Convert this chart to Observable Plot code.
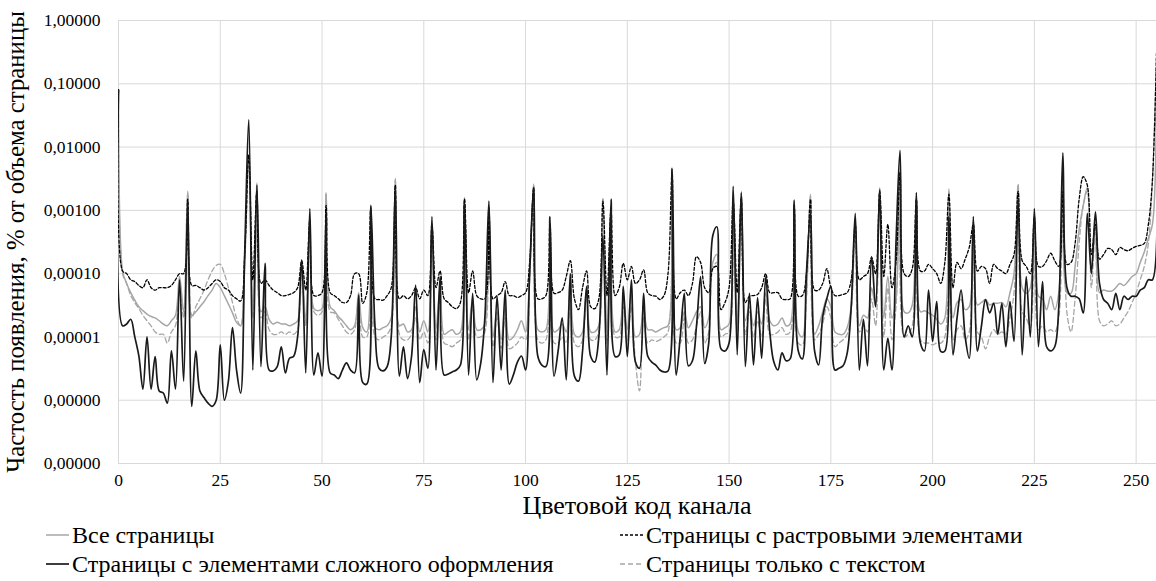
<!DOCTYPE html>
<html><head><meta charset="utf-8">
<script src="https://cdn.jsdelivr.net/npm/d3@7"></script>
<script src="https://cdn.jsdelivr.net/npm/@observablehq/plot@0.6"></script>
<style>
html,body{margin:0;padding:0;background:#fff;}
#wrap{position:relative;width:1156px;height:581px;}
#chart svg{display:block;}
#legend{display:block;}
</style></head>
<body><div id="wrap"><div id="chart"></div></div>
<script>
const seriesNames = ["Все страницы","Страницы с растровыми элементами","Страницы с элементами сложного оформления","Страницы только с текстом"];
const yTitle = "Частость появления, % от объема страницы";
const xTitle = "Цветовой код канала";
const xTicks = [0,25,50,75,100,125,150,175,200,225,250];
const yTicks = [1e-7,1e-6,1e-5,1e-4,1e-3,1e-2,1e-1,1];
const yTickLabels = ["0,00000","0,00000","0,00001","0,00010","0,00100","0,01000","0,10000","1,00000"];

const allPages = [
8e-2,1.1e-4,7e-5,5e-5,3.8e-5,3e-5,2.6e-5,2.3e-5,2.1e-5,2e-5,
1.8e-5,1.6e-5,1.5e-5,1.8e-5,2.2e-5,9e-5,2.5e-5,2e-3,2.2e-5,2.5e-5,
3e-5,3.6e-5,4.5e-5,5.5e-5,7e-5,6e-5,4.5e-5,3.3e-5,2.4e-5,1.7e-5,
1.5e-5,1.5e-4,7e-3,2.5e-5,2.7e-3,2.5e-5,3e-5,1.9e-5,1.6e-5,1.7e-5,
1.6e-5,1.6e-5,1.5e-5,1.6e-5,1.8e-5,1.3e-4,1.8e-5,6e-4,2.8e-5,2.6e-5,
2.8e-5,1.9e-3,3e-5,2.6e-5,2.1e-5,1.8e-5,1.5e-5,1.3e-5,1.5e-5,5e-5,
1.4e-5,1.2e-5,1e-3,1.4e-5,1.3e-5,1.4e-5,1.5e-5,2e-5,3.2e-3,1.5e-5,
1.6e-5,1.2e-5,1.3e-5,3e-5,1.2e-5,1.8e-5,1.2e-5,6e-4,1.3e-5,6e-5,
1.1e-5,1.2e-5,1.3e-5,1.1e-5,1.2e-5,1.6e-3,1.3e-5,4e-5,1.3e-5,1.3e-5,
1.6e-5,1e-3,1e-5,2.5e-5,9e-6,3e-5,9e-6,1e-5,1.3e-5,1.8e-5,
1.2e-5,1e-4,2.6e-3,1.3e-5,1.2e-5,1.3e-5,5e-4,1.2e-5,1.3e-5,1.6e-5,
1.2e-5,1e-4,1.1e-5,1e-5,1.2e-5,6e-5,1.2e-5,1.2e-5,1.5e-5,1.3e-3,
1.1e-5,1e-3,1.2e-5,1.3e-5,4e-5,1.3e-5,5e-5,1e-5,1.1e-5,3e-5,
1.3e-5,1.3e-5,1.2e-5,1.3e-5,1.4e-5,1.5e-5,4.5e-3,1.3e-5,1.4e-5,2.5e-5,
1.4e-5,1.8e-5,2.5e-5,3e-5,1.4e-5,2e-5,1.5e-4,2e-4,1.3e-5,1.4e-5,
1.6e-5,1e-3,1.4e-5,2e-3,1.8e-5,3e-5,1.5e-5,2.5e-5,1.6e-5,5e-5,
1.8e-5,1.5e-5,1.6e-5,2e-5,1.5e-5,1.6e-5,1.2e-3,1.2e-5,1e-5,5e-5,
1.8e-3,1.1e-5,1.5e-5,2.5e-5,4e-5,3e-5,1.2e-5,1.1e-5,1.1e-5,1.4e-5,
3e-5,6e-4,1.5e-5,2.2e-5,2e-5,6e-5,3e-5,2.3e-3,2e-5,9e-5,
2e-5,4e-5,4e-3,2.5e-5,2.4e-5,3.2e-5,1.5e-3,2.5e-5,2.6e-5,2.4e-5,
2.2e-5,1.9e-5,1.6e-5,2e-5,2.2e-3,2e-5,3.5e-5,3.9e-5,2.7e-5,3e-5,
7e-4,3.2e-5,3.5e-5,3.9e-5,3.2e-5,3.4e-5,3.4e-5,3.5e-5,3e-5,5e-5,
1e-4,2.5e-3,6e-5,4.9e-5,6e-5,7e-4,4.4e-5,4e-5,2.7e-5,4.4e-5,
2.7e-5,5e-5,3e-3,5e-5,4.9e-5,1.3e-4,5e-4,1.2e-3,2.3e-3,1.2e-4,
6e-4,5e-5,5.5e-5,5.3e-5,5.3e-5,6e-5,7e-5,6.5e-5,7.5e-5,9e-5,
1e-4,1.5e-4,2.2e-4,3.6e-4,6e-4,6e-2];

const rasterPages = [
8e-2,1.1e-4,1e-4,8e-5,7.5e-5,6.5e-5,6e-5,8e-5,6e-5,5.5e-5,
6e-5,6e-5,6e-5,6.5e-5,8e-5,1e-4,1e-4,1.5e-3,6.5e-5,6.5e-5,
6e-5,5.5e-5,6e-5,7e-5,8e-5,7.5e-5,6e-5,5.5e-5,4.5e-5,4e-5,
3.7e-5,2e-4,7.5e-3,8e-5,2e-3,7e-5,8e-5,6.5e-5,5.5e-5,5e-5,
4.5e-5,4.5e-5,4.7e-5,5e-5,6e-5,1.6e-4,5.5e-5,7e-4,4.5e-5,4.5e-5,
5e-5,1.2e-3,5e-5,4.5e-5,4e-5,3.5e-5,3.5e-5,4.5e-5,1e-4,1e-4,
3.4e-5,5e-5,1.1e-3,4e-5,3.9e-5,3.8e-5,4.5e-5,6e-5,2.5e-3,4e-5,
4.5e-5,4e-5,4.5e-5,6e-5,4e-5,5.5e-5,4.5e-5,6e-4,6e-5,1.1e-4,
4e-5,3.5e-5,3e-5,2.8e-5,3.5e-5,1.5e-3,5e-5,1.1e-4,4.5e-5,4e-5,
4e-5,1.1e-3,4e-5,4.5e-5,5e-5,7.5e-5,4.5e-5,4.5e-5,4.2e-5,4.5e-5,
5e-5,1.5e-4,2.3e-3,4e-5,4e-5,4.5e-5,6e-4,4.9e-5,5e-5,5.5e-5,
9e-5,1.6e-4,4e-5,2.7e-5,6e-5,1.1e-4,3e-5,2.8e-5,4e-5,1.4e-3,
4.5e-5,1e-3,4.5e-5,6e-5,1.45e-4,8e-5,1.3e-4,7e-5,8e-5,1.15e-4,
5e-5,4.5e-5,4.4e-5,3.9e-5,4.5e-5,1e-4,4e-3,4e-5,5e-5,5.5e-5,
4.5e-5,7e-5,1.86e-4,1.5e-4,6e-5,5e-5,1.2e-4,1.3e-4,2.7e-5,3.5e-5,
6e-5,1.4e-3,5e-5,1.6e-3,3.5e-5,4.4e-5,4.5e-5,4.7e-5,6e-5,1e-4,
5e-5,5e-5,5e-5,4e-5,3.9e-5,4e-5,1.2e-3,4.4e-5,4.5e-5,1e-4,
1.5e-3,5.5e-5,5.5e-5,7e-5,1.2e-4,6e-5,4.5e-5,4.5e-5,4.7e-5,5e-5,
8e-5,6e-4,8e-5,9e-5,1e-4,1.8e-4,1e-4,2e-3,9e-5,6e-4,
6e-5,1.5e-4,4e-3,1e-4,9e-5,1.2e-4,1.5e-3,1.1e-4,1.1e-4,1.4e-4,
1.2e-4,1e-4,7e-5,1.5e-4,1.8e-3,6e-5,1.5e-4,1.2e-4,1.7e-4,2.6e-4,
6e-4,1.1e-4,1.3e-4,1.2e-4,7e-5,1.4e-4,1.2e-4,1.1e-4,1e-4,1.4e-4,
2e-4,2e-3,1.6e-4,1.3e-4,1e-4,8e-4,1.3e-4,1.3e-4,1.6e-4,2.1e-4,
1.6e-4,1.3e-4,2e-3,1.4e-4,1.5e-4,3e-4,1.5e-3,3.4e-3,2.5e-3,2e-4,
6e-4,1.7e-4,2e-4,2.5e-4,2.4e-4,2e-4,2.6e-4,2.4e-4,2.3e-4,2.5e-4,
2.7e-4,2.8e-4,3e-4,6e-4,3e-3,3e-1];

const complexPages = [
8e-2,1.5e-5,1.6e-5,1.9e-5,1e-5,5e-6,1.5e-6,1e-5,1.5e-6,4.9e-6,
1.4e-6,1.3e-6,9e-7,6e-6,1.5e-6,8e-5,2e-6,1.3e-3,8e-7,6e-6,
1.4e-6,1.1e-6,9e-7,8e-7,1e-6,7.5e-6,1e-6,2e-6,1.4e-5,3e-6,
1.3e-6,2e-4,2.7e-2,3e-6,2.5e-3,3.4e-6,1.45e-4,3e-6,2.9e-6,3.4e-6,
7e-6,2.7e-6,4.6e-6,4.9e-6,1e-5,1.65e-4,2.7e-6,1.07e-3,2.5e-6,5.6e-6,
2.4e-6,9e-4,2.7e-6,2.5e-6,2.2e-6,3e-6,3.9e-6,3e-6,2.7e-6,4.6e-5,
1.9e-6,1.8e-6,1.2e-3,1.5e-5,3.2e-6,2.9e-6,3.4e-6,1e-5,2.3e-3,2.4e-6,
7e-6,2.2e-6,5e-6,6.6e-5,1.9e-6,6.3e-6,3.2e-6,8e-4,3e-6,9e-5,
2.5e-6,2.6e-6,2.8e-6,3e-6,3.6e-6,1.3e-3,2.5e-6,4.9e-5,2.1e-6,3.9e-6,
2e-5,1.4e-3,1.9e-6,4.4e-5,3e-6,5.5e-5,1.8e-6,2.5e-6,4e-6,5e-6,
3e-6,1e-4,2.3e-3,5e-6,3.6e-6,3.4e-6,8e-4,2.4e-6,6e-6,2e-5,
2.1e-6,1e-4,2.4e-6,2e-6,6e-6,6.3e-5,4.9e-6,4e-6,1e-5,4e-4,
2.5e-6,1.5e-3,4.9e-6,5.2e-6,6.3e-5,4.9e-6,8e-5,4e-6,3.2e-6,4.9e-5,
5e-6,4e-6,3.6e-6,3e-6,2.8e-6,2.9e-6,4.6e-3,2.5e-6,1e-5,4.9e-5,
3.5e-6,4.2e-6,1.5e-5,9e-5,3.8e-6,8e-6,4e-4,5.5e-4,6.5e-6,6e-6,
8e-6,2.4e-3,5.2e-6,1.9e-3,3.4e-6,4.9e-5,3.6e-6,4.2e-5,4.6e-6,9e-5,
1.2e-5,4e-6,3e-6,5.6e-6,4.2e-6,4.5e-6,1.45e-3,6e-6,4.5e-6,1e-4,
9e-4,6e-6,3.6e-6,2.1e-5,4e-5,6.3e-5,3e-6,3.2e-6,3.5e-6,5.5e-6,
3e-5,9e-4,3e-6,1.9e-5,3.5e-6,1.86e-4,3e-5,2.1e-3,3e-6,9.5e-6,
3e-6,3e-4,8.9e-3,1e-5,1.5e-5,1e-5,1.9e-3,8e-6,6e-6,5.5e-5,
8.5e-6,3.6e-5,5.9e-6,6e-6,8e-4,5.2e-6,2e-5,5.5e-5,1e-5,4.6e-6,
8e-4,6e-6,1.5e-5,3.9e-5,2.4e-5,3.4e-5,1.1e-5,3.4e-5,7e-6,3.6e-5,
8.5e-6,1.5e-3,5.2e-6,9e-5,1e-5,1.07e-3,7e-6,7.5e-5,7e-6,6e-6,
7e-6,3e-5,8.1e-3,6e-5,4.4e-5,4.4e-5,4e-5,2.4e-5,9e-4,1e-4,
9.5e-4,7e-5,3.9e-5,3.4e-5,2.7e-5,4.9e-5,2.7e-5,4.4e-5,3.9e-5,4.4e-5,
4.4e-5,5.5e-5,6e-5,8e-5,8e-5,3e-2];

const textPages = [
8e-2,1e-4,7e-5,4.5e-5,3.5e-5,2.8e-5,2.2e-5,1.8e-5,1.5e-5,1.2e-5,
1.1e-5,1.1e-5,8e-6,1.2e-5,1.5e-5,6e-5,2e-5,1.8e-3,2e-5,3e-5,
4e-5,5.5e-5,8e-5,1.1e-4,1.35e-4,1.4e-4,1e-4,6e-5,3.5e-5,2e-5,
1.5e-5,1.5e-4,6e-3,2e-5,2.5e-3,2e-5,2.5e-5,1.3e-5,1.1e-5,1.1e-5,
1.2e-5,1.1e-5,1.2e-5,1.1e-5,1.3e-5,1.2e-4,1.5e-5,5e-4,2.5e-5,2.2e-5,
2.5e-5,1.8e-3,2.5e-5,2.4e-5,1.9e-5,1.5e-5,1.2e-5,1.1e-5,1.3e-5,4e-5,
1e-5,1e-5,9e-4,1e-5,9e-6,1e-5,1.1e-5,1.5e-5,3e-3,1.1e-5,
9e-6,9e-6,1.1e-5,2e-5,9e-6,1.2e-5,8e-6,5e-4,9e-6,4e-5,
8e-6,7.5e-6,7e-6,8e-6,9e-6,1.5e-3,9e-6,3e-5,1e-5,1e-5,
1.2e-5,9e-4,7e-6,2e-5,6.6e-6,2e-5,6.5e-6,7e-6,8e-6,1e-5,
9e-6,8e-5,2.5e-3,9e-6,8e-6,9e-6,4.5e-4,8e-6,8e-6,1e-5,
8e-6,8e-5,8e-6,7e-6,9e-6,5e-5,9e-6,9e-6,1.2e-5,1.6e-3,
8e-6,8e-4,1e-5,1e-5,3e-5,9e-6,3e-5,4e-6,1.4e-6,2e-5,
8e-6,9e-6,8.5e-6,9e-6,1e-5,1.2e-5,4.2e-3,8e-6,8e-6,2e-5,
8e-6,9e-6,1.5e-5,2.5e-5,8e-6,1.2e-5,1.2e-4,1.5e-4,1e-5,1.1e-5,
1.2e-5,9e-4,1e-5,1.8e-3,1.1e-5,2.5e-5,1e-5,1.8e-5,1e-5,4e-5,
1.1e-5,1.1e-5,1.2e-5,1.4e-5,1.1e-5,1.2e-5,1.1e-3,8e-6,7.5e-6,4e-5,
1.7e-3,9e-6,1.1e-5,1.6e-5,3e-5,2e-5,7e-6,8e-6,9e-6,1.1e-5,
2.5e-5,5e-4,1.2e-5,1.5e-5,1.2e-5,4e-5,1.5e-5,2.2e-3,1e-5,6e-5,
9e-6,3e-5,3.5e-3,1e-5,1.1e-5,1.5e-5,1.3e-3,9e-6,8e-6,8e-6,
7.5e-6,8e-6,8e-6,1e-5,2e-3,9e-6,1.3e-5,1.5e-5,9e-6,1.2e-5,
6e-4,1.2e-5,1e-5,6.5e-6,1e-5,1.3e-5,1.1e-5,1.2e-5,1.1e-5,2e-5,
5e-5,2.6e-3,2.5e-5,2e-5,1.4e-5,5e-4,1.3e-5,1.5e-5,1.2e-5,1.3e-5,
1.2e-5,2e-5,2.5e-3,2.4e-5,1.2e-5,4e-5,3e-4,1.2e-3,2e-3,6e-5,
5e-4,1.8e-5,1.5e-5,1.6e-5,1.8e-5,1.5e-5,1.6e-5,2e-5,2.5e-5,3.5e-5,
5e-5,8e-5,1.3e-4,3e-4,3e-3,3e-1];

const seriesValues = [allPages, rasterPages, complexPages, textPages];
const styles = [
  {stroke:"#a6a6a6", strokeWidth:1.5, dash:null},
  {stroke:"#000000", strokeWidth:1.3, dash:"3,2"},
  {stroke:"#1a1a1a", strokeWidth:1.7, dash:null},
  {stroke:"#a6a6a6", strokeWidth:1.3, dash:"5,3"}
];
const drawOrder = [0,3,1,2];

const tables = seriesValues.map((vals, s) => vals.map((v, i) => ({code: i, value: v, series: seriesNames[s]})));

const lineMarks = drawOrder.map(s => Plot.line(tables[s], {
  x: "code", y: "value", curve: "catmull-rom",
  stroke: styles[s].stroke, strokeWidth: styles[s].strokeWidth,
  strokeDasharray: styles[s].dash, clip: true
}));

const serif = "Liberation Serif, Tinos, Times New Roman, DejaVu Serif, Noto Serif, serif";
const chart = Plot.plot({
  width: 1156, height: 490,
  marginLeft: 118, marginRight: 0, marginTop: 20, marginBottom: 27,
  style: {fontSize: "17.5px", color: "#000", background: "#fff"},
  x: {domain: [0, 255], ticks: xTicks, tickSize: 0, tickPadding: 10, label: null},
  y: {type: "log", domain: [1e-7, 1], ticks: yTicks, tickSize: 0, tickPadding: 18,
      tickFormat: d => yTickLabels[yTicks.indexOf(d)], label: null},
  marks: [
    Plot.gridX(xTicks, {stroke: "#d9d9d9", strokeOpacity: 1, strokeWidth: 1}),
    Plot.gridY(yTicks, {stroke: "#d9d9d9", strokeOpacity: 1, strokeWidth: 1}),
    ...lineMarks
  ]
});
document.getElementById("chart").appendChild(chart);
const ns = "http://www.w3.org/2000/svg";
chart.setAttribute("font-family", serif);
chart.querySelectorAll("text").forEach(t => { t.setAttribute("font-family", serif); t.setAttribute("font-size", "17.5"); t.setAttribute("fill", "#000"); });

function addText(svg, str, x, y, size, anchor, transform) {
  const t = document.createElementNS(ns, "text");
  if (transform) t.setAttribute("transform", transform);
  else { t.setAttribute("x", x); t.setAttribute("y", y); }
  t.setAttribute("text-anchor", anchor);
  t.setAttribute("font-size", size);
  t.setAttribute("font-family", serif);
  t.setAttribute("fill", "#000");
  t.textContent = str;
  svg.appendChild(t);
  return t;
}
// y-axis title
addText(chart, yTitle, 0, 0, 24.8, "middle", "translate(24,242) rotate(-90)");

// x title + legend in a separate SVG below the chart
const leg = document.createElementNS(ns, "svg");
leg.setAttribute("width", 1156);
leg.setAttribute("height", 91);
leg.setAttribute("id", "legend");
leg.setAttribute("font-family", serif);
document.getElementById("wrap").appendChild(leg);
addText(leg, xTitle, 637, 24, 26, "middle");
const legendPos = [
  {s:0, x:72, y:53},
  {s:1, x:646, y:53},
  {s:2, x:72, y:82},
  {s:3, x:646, y:82}
];
legendPos.forEach(p => {
  const st = styles[p.s];
  const l = document.createElementNS(ns, "line");
  l.setAttribute("x1", p.x - 26); l.setAttribute("x2", p.x - 3);
  l.setAttribute("y1", p.y - 8); l.setAttribute("y2", p.y - 8);
  l.setAttribute("stroke", st.stroke); l.setAttribute("stroke-width", st.strokeWidth);
  if (st.dash) l.setAttribute("stroke-dasharray", st.dash);
  leg.appendChild(l);
  addText(leg, seriesNames[p.s], p.x, p.y, 24, "start");
});
</script></body></html>
